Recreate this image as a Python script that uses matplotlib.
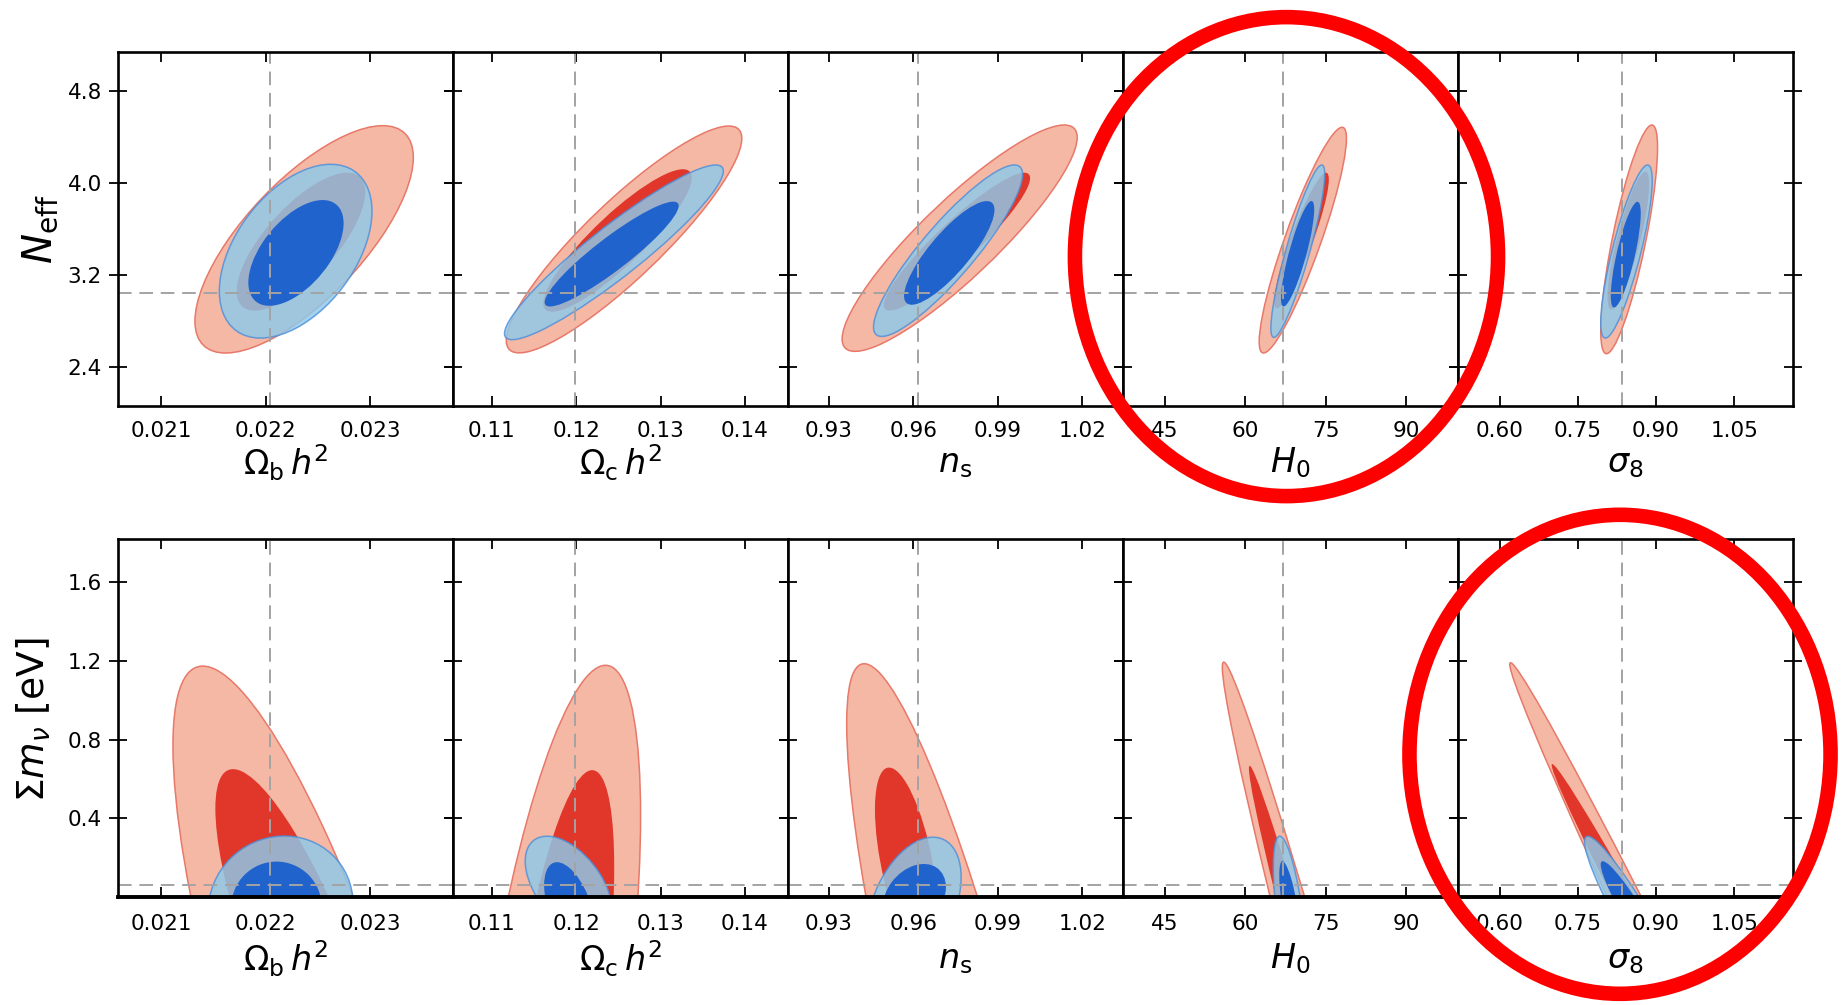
import numpy as np
import matplotlib
matplotlib.use("Agg")
import matplotlib.pyplot as plt
from matplotlib.patches import PathPatch, Ellipse
from matplotlib.path import Path
from matplotlib.transforms import Affine2D

plt.rcParams['font.family'] = ['DejaVu Sans']
plt.rcParams['mathtext.fontset'] = 'dejavusans'

# ---------------------------------------------------------------- parameters
x_labels = [r'$\Omega_{\rm b}\,h^2$', r'$\Omega_{\rm c}\,h^2$', r'$n_{\rm s}$',
            r'$H_0$', r'$\sigma_8$']
x_limits = [(0.02059, 0.02379), (0.1054, 0.1451), (0.9155, 1.0345),
            (37.2, 99.7), (0.52, 1.163)]
x_ticks = [[0.021, 0.022, 0.023], [0.11, 0.12, 0.13, 0.14],
           [0.93, 0.96, 0.99, 1.02], [45, 60, 75, 90], [0.60, 0.75, 0.90, 1.05]]
x_tick_labels = [['0.021', '0.022', '0.023'], ['0.11', '0.12', '0.13', '0.14'],
                 ['0.93', '0.96', '0.99', '1.02'], ['45', '60', '75', '90'],
                 ['0.60', '0.75', '0.90', '1.05']]
x_fiducial = [0.02204, 0.1199, 0.9616, 67.0, 0.834]

neff_label = r'$N_{\rm eff}$'
neff_limits = (2.06, 5.14)
neff_ticks = [2.4, 3.2, 4.0, 4.8]
neff_tick_labels = ['2.4', '3.2', '4.0', '4.8']
neff_fiducial = 3.046

mnu_label = r'$\Sigma m_\nu$ [eV]'
mnu_limits = (0.0, 1.82)
mnu_ticks = [0.4, 0.8, 1.2, 1.6]
mnu_tick_labels = ['0.4', '0.8', '1.2', '1.6']
mnu_fiducial = 0.06

# Confidence regions, one entry per column:
# (x centre, y centre, x half-extent, y half-extent, correlation)
neff_red_95 = [(0.022368, 3.51, 0.001043, 0.989, 0.72),
               (0.12567, 3.509, 0.013955, 0.987, 0.89),
               (0.97648, 3.52, 0.04175, 0.985, 0.89),
               (70.75, 3.503, 8.14, 0.982, 0.90),
               (0.8485, 3.51, 0.0545, 0.995, 0.80)]
neff_red_68 = [(0.022338, 3.49, 0.000614, 0.60, 0.72),
               (0.1249, 3.50, 0.0088, 0.62, 0.88),
               (0.9755, 3.49, 0.0260, 0.60, 0.92),
               (70.5, 3.50, 5.1, 0.59, 0.90),
               (0.847, 3.50, 0.040, 0.60, 0.82)]
neff_blue_95 = [(0.022287, 3.407, 0.000729, 0.756, 0.46),
                (0.12447, 3.397, 0.012965, 0.76, 0.93),
                (0.97235, 3.411, 0.02647, 0.746, 0.89),
                (69.81, 3.407, 5.02, 0.75, 0.89),
                (0.8434, 3.404, 0.0494, 0.753, 0.82)]
neff_blue_68 = [(0.02229, 3.392, 0.000455, 0.46, 0.56),
                (0.1242, 3.382, 0.00794, 0.456, 0.92),
                (0.97278, 3.392, 0.01606, 0.451, 0.83),
                (69.77, 3.385, 3.1, 0.459, 0.84),
                (0.842, 3.377, 0.0288, 0.46, 0.78)]

mnu_red_95 = [(0.02254, -0.846, 0.001425, 2.02, -0.80),
              (0.11723, -0.737, 0.0104, 1.915, 0.60),
              (0.97775, -0.854, 0.0414, 2.04, -0.85),
              (85.85, -1.806, 30.12, 3.0, -0.991),
              (1.171, -1.809, 0.5516, 3.0, -0.9972)]
mnu_red_68 = [(0.022365, -0.35, 0.000845, 1.0, -0.80),
              (0.11798, -0.5925, 0.006525, 1.2375, 0.60),
              (0.95752, 0.182, 0.01113, 0.476, -0.55),
              (76.82, -0.933, 16.13, 1.6, -0.9907),
              (1.0051, -0.824, 0.3053, 1.5, -0.9963)]
mnu_blue_95 = [(0.022144, -0.05, 0.00069, 0.36, 0.05),
               (0.11912, 0.055, 0.00516, 0.254, -0.50),
               (0.96033, -0.036, 0.01667, 0.34, 0.40),
               (68.3, -0.091, 3.058, 0.40, -0.607),
               (0.8636, -0.141, 0.1007, 0.45, -0.9386)]
mnu_blue_68 = [(0.022104, -0.05, 0.000432, 0.23, 0.0),
               (0.11926, -0.057, 0.00306, 0.234, -0.50),
               (0.96037, -0.0006, 0.01123, 0.1686, 0.30),
               (68.43, -0.068, 2.077, 0.25, -0.714),
               (0.857, -0.088, 0.0631, 0.27, -0.9366)]

# ---------------------------------------------------------------- styling
RED_95_FILL = '#F5B8A4'
RED_95_EDGE = '#E8786A'
RED_68_FILL = '#E0372A'
BLUE_95_FILL = '#8DCAEC'
BLUE_95_EDGE = '#4C8FDA'
BLUE_68_FILL = '#2163CC'
REF_COLOR = '#A3A3A3'
HIGHLIGHT = '#FF0000'

W, H = 1849, 1005
fig = plt.figure(figsize=(W / 100, H / 100), dpi=100)
fig.patch.set_facecolor('white')

col_left = [118, 453, 788, 1123, 1458]
col_width = 335
rows = [dict(top=52, bottom=406, label_y=463),
        dict(top=539, bottom=897, label_y=959)]


def region(ax, entry, face, edge=None, alpha=1.0, lw=1.1, z=1):
    mx, my, hx, hy, rho = entry
    tr = Affine2D(np.array([[hx, 0.0, mx],
                            [hy * rho, hy * np.sqrt(1 - rho ** 2), my],
                            [0.0, 0.0, 1.0]]))
    patch = PathPatch(Path.unit_circle(), transform=tr + ax.transData,
                      facecolor=face, alpha=alpha,
                      edgecolor=edge if edge else 'none',
                      linewidth=lw if edge else 0, zorder=z)
    ax.add_patch(patch)


row_specs = [
    dict(ylim=neff_limits, yticks=neff_ticks, yticklabels=neff_tick_labels,
         yfid=neff_fiducial, sets=(neff_red_95, neff_red_68, neff_blue_95, neff_blue_68),
         xpad=10.5, bottom_lw=1.9),
    dict(ylim=mnu_limits, yticks=mnu_ticks, yticklabels=mnu_tick_labels,
         yfid=mnu_fiducial, sets=(mnu_red_95, mnu_red_68, mnu_blue_95, mnu_blue_68),
         xpad=12.5, bottom_lw=2.8),
]

axes = [[None] * 5 for _ in range(2)]
for r, (geom, spec) in enumerate(zip(rows, row_specs)):
    h_px = geom['bottom'] - geom['top']
    for c in range(5):
        ax = fig.add_axes([col_left[c] / W, 1 - geom['bottom'] / H,
                           col_width / W, h_px / H])
        axes[r][c] = ax
        red95, red68, blue95, blue68 = (s[c] for s in spec['sets'])
        region(ax, red95, RED_95_FILL, RED_95_EDGE, z=1)
        region(ax, red68, RED_68_FILL, z=2)
        region(ax, blue95, BLUE_95_FILL, BLUE_95_EDGE, alpha=0.82, z=3)
        region(ax, blue68, BLUE_68_FILL, z=4)

        dash = (0, (7, 4))
        ax.axvline(x_fiducial[c], color=REF_COLOR, lw=1.4, ls=dash, zorder=5)
        ax.axhline(spec['yfid'], color=REF_COLOR, lw=1.4, ls=dash, zorder=5)

        ax.set_xlim(*x_limits[c])
        ax.set_ylim(*spec['ylim'])
        ax.set_xticks(x_ticks[c])
        ax.set_xticklabels(x_tick_labels[c])
        ax.set_yticks(spec['yticks'])
        if c == 0:
            ax.set_yticklabels(spec['yticklabels'])
        else:
            ax.set_yticklabels([])

        ax.tick_params(axis='x', direction='in', length=7, width=1.3,
                       top=True, bottom=True, labelsize=15.5, pad=spec['xpad'])
        ax.tick_params(axis='y', direction='inout', length=13, width=1.3,
                       left=True, right=True, labelsize=15.5, pad=5)
        for side in ('left', 'right', 'top', 'bottom'):
            ax.spines[side].set_linewidth(1.9)
            ax.spines[side].set_zorder(6)
        ax.spines['bottom'].set_linewidth(spec['bottom_lw'])

        ly = (geom['bottom'] - geom['label_y']) / h_px
        ax.text(0.5, ly, x_labels[c], transform=ax.transAxes,
                ha='center', va='center', fontsize=24)

fig.text(40 / W, 1 - 229 / H, neff_label, rotation=90, ha='center',
         va='center', fontsize=29)
fig.text(34 / W, 1 - 720 / H, mnu_label, rotation=90, ha='center',
         va='center', fontsize=27)

# highlight rings around two of the panels
fig.add_artist(Ellipse((0.488, 0.422), 1.263, 1.353, transform=axes[0][3].transAxes,
                       fill=False, edgecolor=HIGHLIGHT, linewidth=10.5,
                       clip_on=False, zorder=20))
fig.add_artist(Ellipse((0.4836, 0.3986), 1.257, 1.338, transform=axes[1][4].transAxes,
                       fill=False, edgecolor=HIGHLIGHT, linewidth=10.5,
                       clip_on=False, zorder=20))

fig.savefig('out.png', dpi=100, facecolor='white')
